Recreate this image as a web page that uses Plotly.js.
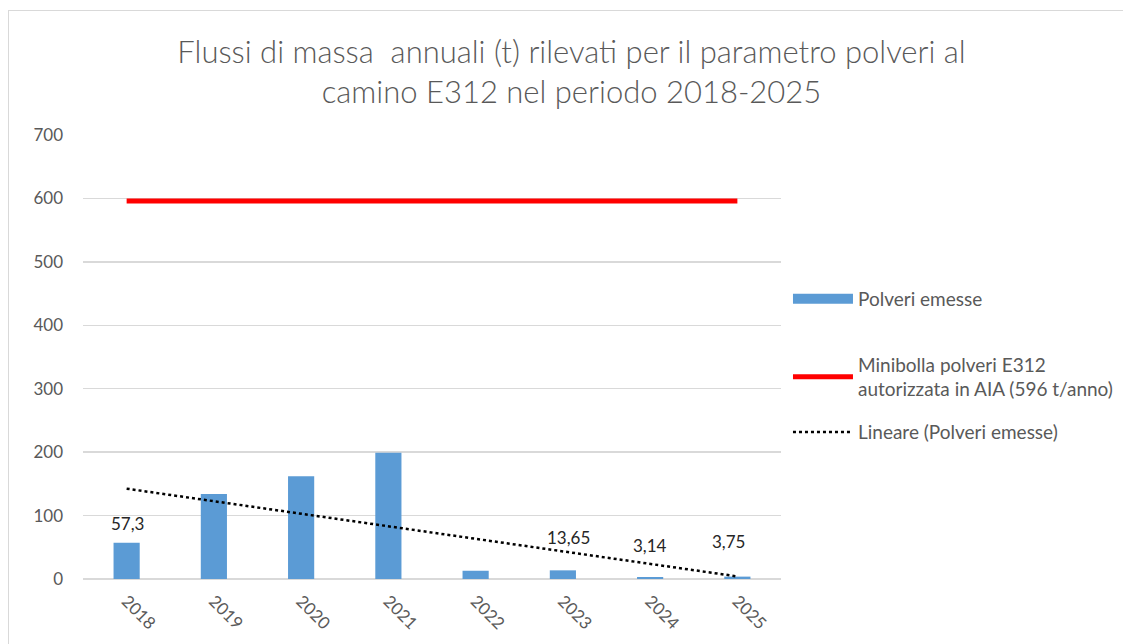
<!DOCTYPE html>
<html><head><meta charset="utf-8">
<script src="https://cdn.plot.ly/plotly-3.0.1.min.js"></script>
<style>
html,body{margin:0;padding:0;background:#fff;overflow:hidden;}
#frame{position:absolute;left:8px;top:10px;width:1125px;height:650px;border:1px solid #d9d9d9;background:#fff;}
#chart{width:1125px;height:650px;}
</style></head>
<body><div id="frame"><div id="chart"></div></div>
<script>
const years = ["2018","2019","2020","2021","2022","2023","2024","2025"];
const polveri = [57.3, 134, 162, 199, 13, 13.65, 3.14, 3.75];
const minibolla = [596, 596, 596, 596, 596, 596, 596, 596];
const labelYears = ["2018","2023","2024","2025"];
const labelTexts = ["57,3","13,65","3,14","3,75"];
const labelValues = [57.3, 13.65, 3.14, 3.75];
const labelShifts = [7, 20, 19, 23];
const labelXShifts = [1, 6, 0, -9];

// linear trendline (least squares) as Excel "Lineare"
const n = polveri.length;
const xs = polveri.map((_, i) => i + 1);
const mx = xs.reduce((a, b) => a + b, 0) / n;
const my = polveri.reduce((a, b) => a + b, 0) / n;
let sxy = 0, sxx = 0;
for (let i = 0; i < n; i++) { sxy += (xs[i] - mx) * (polveri[i] - my); sxx += (xs[i] - mx) ** 2; }
const slope = sxy / sxx, icpt = my - slope * mx;
const trend = xs.map(x => icpt + slope * x);

const grey = '#595959';
const FONT = 'Lato, "Open Sans", sans-serif';

const traces = [
  {type:'bar', x:years, y:polveri, name:'Polveri emesse', marker:{color:'#5b9bd5'}, width:0.3, showlegend:false},
  // legend swatch for the bars (Excel draws a wide rectangle)
  {type:'scatter', mode:'lines', x:[null], y:[null], name:'Polveri emesse', line:{color:'#5b9bd5', width:12}, legend:'legend', showlegend:true, hoverinfo:'skip'},
  {type:'scatter', mode:'lines', x:years, y:minibolla, name:'Minibolla polveri E312<br>autorizzata in AIA (596 t/anno)', line:{color:'#ff0000', width:5}, legend:'legend2'},
  {type:'scatter', mode:'lines', x:years, y:trend, name:'Lineare (Polveri emesse)', line:{color:'#000000', width:2.5, dash:'dot'}, legend:'legend3'}
];

const annotations = labelYears.map((yr, i) => ({
  x: years.indexOf(yr), y: labelValues[i], xref:'x', yref:'y', text: labelTexts[i], showarrow:false,
  yanchor:'bottom', yshift: labelShifts[i], xshift: labelXShifts[i], font:{family:FONT, size:17, color:'#262626'}
}));

const legFont = {family:FONT, size:19, color:grey};
const legBase = {x:1.01, xanchor:'left', yanchor:'middle', font:legFont, bgcolor:'rgba(0,0,0,0)', itemwidth:60};

const layout = {
  width:1125, height:650,
  margin:{l:74, r:353, t:124, b:82},
  paper_bgcolor:'#ffffff', plot_bgcolor:'#ffffff',
  font:{family:FONT, color:grey},
  title:{text:'Flussi di massa  annuali (t) rilevati per il parametro polveri al<br>camino E312 nel periodo 2018-2025',
    font:{family:FONT, size:31, color:grey, weight:300}, x:0.5, xref:'container', y:0.92, yref:'container', yanchor:'middle', xanchor:'center'},
  xaxis:{type:'category', categoryarray:years, range:[-0.5, 7.5], tickangle:45, tickfont:{size:17, color:grey}, showgrid:false, zeroline:false,
    showline:false, ticks:'', ticklabelstandoff:8, fixedrange:true},
  yaxis:{range:[0,700], dtick:100, tickfont:{size:17, color:grey}, gridcolor:'#d9d9d9', gridwidth:1.5,
    zeroline:true, zerolinecolor:'#d9d9d9', zerolinewidth:1.5, showline:false, ticks:'', ticklabelstandoff:19, fixedrange:true},
  legend:Object.assign({}, legBase, {y:0.631}),
  legend2:Object.assign({}, legBase, {y:0.455}),
  legend3:Object.assign({}, legBase, {y:0.331}),
  annotations: annotations,
  showlegend:true
};
Plotly.newPlot('chart', traces, layout, {displayModeBar:false, staticPlot:true});
</script></body></html>
